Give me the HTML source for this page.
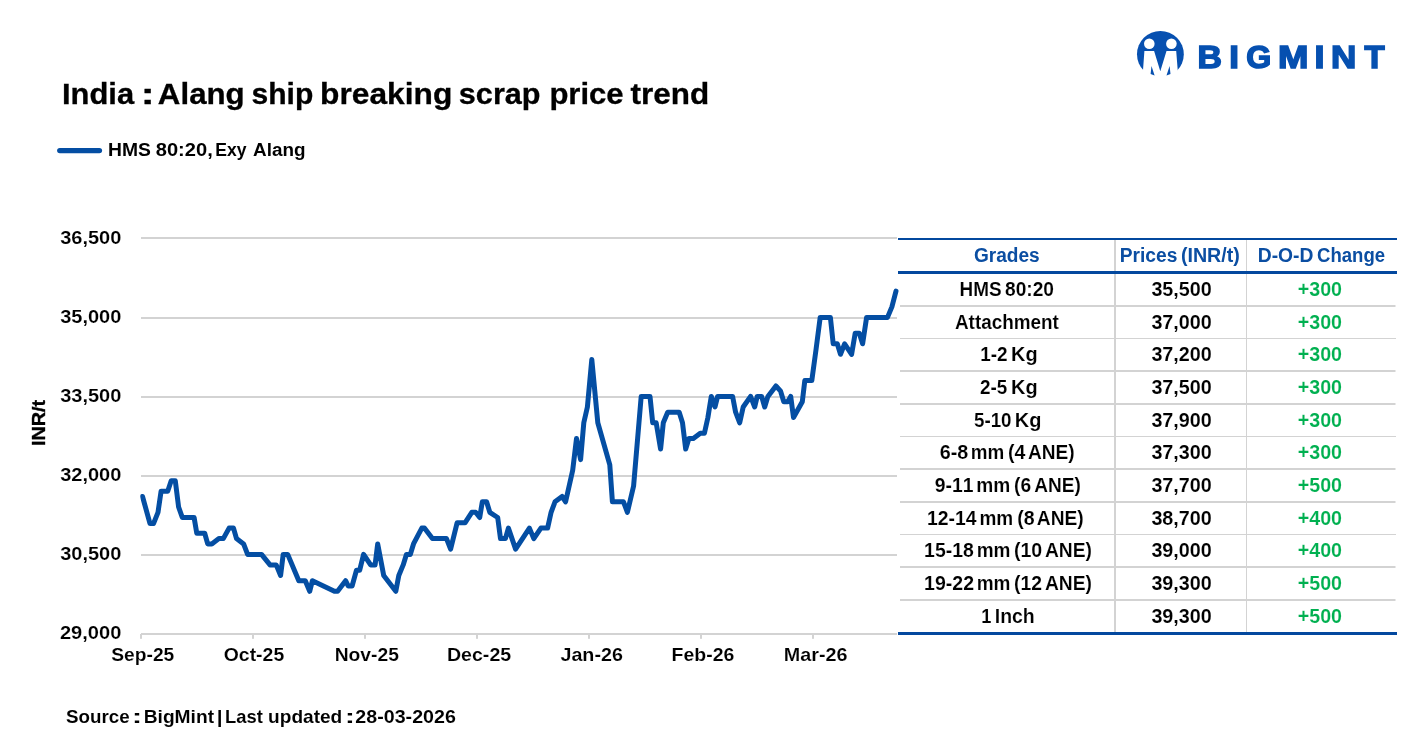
<!DOCTYPE html>
<html lang="en"><head><meta charset="utf-8"><title>India : Alang ship breaking scrap price trend</title>
<style>html,body{margin:0;padding:0;background:#fff}body{width:1412px;height:736px;overflow:hidden}svg{display:block}text{font-kerning:none;font-family:"Liberation Sans",sans-serif;font-weight:bold}</style></head><body>
<svg width="1412" height="736" viewBox="0 0 1412 736">
<rect width="1412" height="736" fill="#fff"/>
<g id="logo"><title>BIGMINT</title>
<circle cx="1160.4" cy="54.3" r="23.4" fill="#0750b0"/>
<circle cx="1149.3" cy="43.7" r="5.3" fill="#fff"/><circle cx="1171.4" cy="43.7" r="5.3" fill="#fff"/>
<path d="M1144.4 50.9 L1154.1 50.9 L1160.3 71.2 L1166.5 50.9 L1176.2 50.9 L1178.5 80 L1142.3 80 Z" fill="#fff"/>
<path d="M1151.5 66 L1150.6 74 L1154.6 75.6 Z M1169.6 66 L1170.5 74 L1166.5 75.6 Z" fill="#0750b0"/>
<text y="68.20" font-size="31.10" fill="#0650b0" stroke="#0650b0" stroke-width="1.5" stroke-linejoin="miter"><tspan x="1197.50" textLength="24.42" lengthAdjust="spacingAndGlyphs">B</tspan><tspan x="1229.21" textLength="9.68" lengthAdjust="spacingAndGlyphs">I</tspan><tspan x="1246.36" textLength="24.96" lengthAdjust="spacingAndGlyphs">G</tspan><tspan x="1277.94" textLength="30.43" lengthAdjust="spacingAndGlyphs">M</tspan><tspan x="1314.46" textLength="9.97" lengthAdjust="spacingAndGlyphs">I</tspan><tspan x="1330.90" textLength="25.32" lengthAdjust="spacingAndGlyphs">N</tspan><tspan x="1364.52" textLength="20.13" lengthAdjust="spacingAndGlyphs">T</tspan></text>
</g>
<text y="103.90" font-size="29.4" fill="#000" stroke="#000" stroke-width="0.3"><tspan x="61.98" textLength="72.17" lengthAdjust="spacingAndGlyphs">India</tspan> <tspan x="140.71" textLength="13.97" lengthAdjust="spacingAndGlyphs">:</tspan> <tspan x="157.87" textLength="86.87" lengthAdjust="spacingAndGlyphs">Alang</tspan> <tspan x="251.49" textLength="61.79" lengthAdjust="spacingAndGlyphs">ship</tspan> <tspan x="320.06" textLength="132.21" lengthAdjust="spacingAndGlyphs">breaking</tspan> <tspan x="458.87" textLength="81.63" lengthAdjust="spacingAndGlyphs">scrap</tspan> <tspan x="549.40" textLength="74.21" lengthAdjust="spacingAndGlyphs">price</tspan> <tspan x="630.57" textLength="78.66" lengthAdjust="spacingAndGlyphs">trend</tspan></text>
<line x1="59.8" y1="150.6" x2="99.4" y2="150.6" stroke="#044ea3" stroke-width="5.4" stroke-linecap="round"/>
<text y="155.60" font-size="18.3" fill="#000"><tspan x="108.06" textLength="42.90" lengthAdjust="spacingAndGlyphs">HMS</tspan> <tspan x="155.76" textLength="56.98" lengthAdjust="spacingAndGlyphs">80:20,</tspan> <tspan x="215.32" textLength="31.27" lengthAdjust="spacingAndGlyphs">Exy</tspan> <tspan x="253.03" textLength="52.43" lengthAdjust="spacingAndGlyphs">Alang</tspan></text>
<text y="722.75" font-size="18.7" fill="#000" stroke="#fff" stroke-width="0.05"><tspan x="66.03" textLength="63.63" lengthAdjust="spacingAndGlyphs">Source</tspan> <tspan x="131.73" textLength="10.54" lengthAdjust="spacingAndGlyphs">:</tspan> <tspan x="143.69" textLength="70.37" lengthAdjust="spacingAndGlyphs">BigMint</tspan> <tspan x="216.80" textLength="5.80" lengthAdjust="spacingAndGlyphs">|</tspan> <tspan x="225.05" textLength="37.80" lengthAdjust="spacingAndGlyphs">Last</tspan> <tspan x="268.09" textLength="74.19" lengthAdjust="spacingAndGlyphs">updated</tspan> <tspan x="344.70" textLength="10.30" lengthAdjust="spacingAndGlyphs">:</tspan> <tspan x="355.39" textLength="100.44" lengthAdjust="spacingAndGlyphs">28-03-2026</tspan></text>
<g id="chart">
<rect x="141" y="237" width="756" height="2" fill="#d3d3d3"/>
<rect x="141" y="317" width="756" height="2" fill="#d3d3d3"/>
<rect x="141" y="396" width="756" height="2" fill="#d3d3d3"/>
<rect x="141" y="475" width="756" height="2" fill="#d3d3d3"/>
<rect x="141" y="554" width="756" height="2" fill="#d3d3d3"/>
<rect x="141" y="633" width="756" height="2" fill="#d3d3d3"/>
<rect x="140.0" y="634" width="2" height="4.8" fill="#d3d3d3"/>
<rect x="252.0" y="634" width="2" height="4.8" fill="#d3d3d3"/>
<rect x="364.0" y="634" width="2" height="4.8" fill="#d3d3d3"/>
<rect x="476.0" y="634" width="2" height="4.8" fill="#d3d3d3"/>
<rect x="588.0" y="634" width="2" height="4.8" fill="#d3d3d3"/>
<rect x="700.0" y="634" width="2" height="4.8" fill="#d3d3d3"/>
<rect x="812.0" y="634" width="2" height="4.8" fill="#d3d3d3"/>
<text x="60.18" y="243.55" font-size="18.8" fill="#000" stroke="#fff" stroke-width="0.12" textLength="61.20" lengthAdjust="spacingAndGlyphs">36,500</text>
<text x="60.18" y="322.54" font-size="18.8" fill="#000" stroke="#fff" stroke-width="0.12" textLength="61.20" lengthAdjust="spacingAndGlyphs">35,000</text>
<text x="60.18" y="401.53" font-size="18.8" fill="#000" stroke="#fff" stroke-width="0.12" textLength="61.20" lengthAdjust="spacingAndGlyphs">33,500</text>
<text x="60.18" y="480.52" font-size="18.8" fill="#000" stroke="#fff" stroke-width="0.12" textLength="61.20" lengthAdjust="spacingAndGlyphs">32,000</text>
<text x="60.18" y="559.51" font-size="18.8" fill="#000" stroke="#fff" stroke-width="0.12" textLength="61.20" lengthAdjust="spacingAndGlyphs">30,500</text>
<text x="59.94" y="638.50" font-size="18.8" fill="#000" stroke="#fff" stroke-width="0.12" textLength="61.44" lengthAdjust="spacingAndGlyphs">29,000</text>
<g transform="translate(45.2,444.9) rotate(-90)"><text x="-1.15" y="0.00" font-size="18.7" fill="#000" stroke="#000" stroke-width="0.35" textLength="46.22" lengthAdjust="spacingAndGlyphs">INR/t</text></g>
<text x="111.29" y="660.90" font-size="18.8" fill="#000" stroke="#fff" stroke-width="0.12" textLength="63.01" lengthAdjust="spacingAndGlyphs">Sep-25</text>
<text x="223.74" y="660.90" font-size="18.8" fill="#000" stroke="#fff" stroke-width="0.12" textLength="60.46" lengthAdjust="spacingAndGlyphs">Oct-25</text>
<text x="334.65" y="660.90" font-size="18.8" fill="#000" stroke="#fff" stroke-width="0.12" textLength="64.25" lengthAdjust="spacingAndGlyphs">Nov-25</text>
<text x="446.93" y="660.90" font-size="18.8" fill="#000" stroke="#fff" stroke-width="0.12" textLength="64.28" lengthAdjust="spacingAndGlyphs">Dec-25</text>
<text x="560.44" y="660.90" font-size="18.8" fill="#000" stroke="#fff" stroke-width="0.12" textLength="62.43" lengthAdjust="spacingAndGlyphs">Jan-26</text>
<text x="671.64" y="660.90" font-size="18.8" fill="#000" stroke="#fff" stroke-width="0.12" textLength="62.72" lengthAdjust="spacingAndGlyphs">Feb-26</text>
<text x="783.82" y="660.90" font-size="18.8" fill="#000" stroke="#fff" stroke-width="0.12" textLength="63.76" lengthAdjust="spacingAndGlyphs">Mar-26</text>
<clipPath id="plotclip"><rect x="140.3" y="230" width="760" height="410"/></clipPath>
<polyline clip-path="url(#plotclip)" points="142.5,496.5 150.0,523.6 153.5,523.6 158.0,512.3 161.1,491.2 167.7,491.2 171.2,480.7 175.3,480.7 178.6,507.0 182.3,517.5 194.1,517.5 196.8,533.3 204.7,533.3 207.7,543.9 211.8,543.9 218.9,538.6 223.3,538.6 229.1,528.1 233.5,528.1 236.5,538.6 243.6,543.9 247.6,554.4 261.5,554.4 270.0,564.9 276.2,564.9 280.6,575.5 283.2,554.4 287.7,554.4 298.8,580.7 305.3,580.7 309.7,591.3 312.4,580.7 334.4,591.3 337.6,591.3 345.6,580.7 348.2,586.0 352.1,586.0 356.5,570.2 359.7,570.2 363.6,554.4 370.6,564.9 375.1,564.9 377.7,543.9 383.7,575.5 395.8,591.3 398.8,575.5 403.2,564.9 406.4,554.4 410.3,554.4 413.5,543.9 421.8,528.1 424.4,528.1 432.4,538.6 446.5,538.6 450.6,549.1 457.1,522.8 465.0,522.8 471.8,512.3 475.6,512.3 479.7,517.5 482.3,501.8 486.6,501.8 489.8,512.3 497.7,517.5 500.5,538.6 505.4,538.6 508.4,528.1 515.6,549.1 529.4,528.1 533.8,538.6 540.9,528.1 547.6,528.1 551.1,512.3 555.0,501.8 562.1,496.5 565.6,501.8 572.7,470.2 576.5,438.6 580.6,459.6 583.8,422.8 587.4,407.0 591.8,359.6 597.8,422.8 609.8,464.9 612.4,501.8 623.5,501.8 627.4,512.3 633.6,486.0 641.2,396.4 650.0,396.4 652.7,422.8 656.2,422.8 660.6,449.1 663.3,422.8 667.7,412.2 679.2,412.2 682.5,422.8 685.7,449.1 688.9,438.6 693.3,438.6 700.3,433.3 704.4,433.3 707.9,417.5 711.3,396.4 715.0,407.0 717.6,396.4 732.6,396.4 735.6,412.2 739.7,422.8 743.2,407.0 750.6,396.4 754.7,407.0 757.2,396.4 761.6,396.4 764.7,407.0 767.9,396.4 775.9,385.9 780.6,391.2 783.8,401.7 787.7,401.7 790.7,396.4 793.5,417.5 802.3,401.7 804.8,380.6 811.8,380.6 816.1,349.0 820.2,317.4 830.4,317.4 833.2,343.8 837.3,343.8 840.5,354.3 844.6,343.8 851.6,354.3 855.2,333.2 859.3,333.2 862.6,343.8 866.6,317.4 887.5,317.4 891.9,306.9 896.0,291.1" fill="none" stroke="#044ea3" stroke-width="5" stroke-linejoin="round" stroke-linecap="round"/>
</g>
<g id="table">
<rect x="900" y="305" width="495.5" height="2" fill="#d3d3d3"/>
<rect x="900" y="338" width="496" height="1" fill="#d3d3d3"/>
<rect x="900" y="370" width="495.5" height="2" fill="#d3d3d3"/>
<rect x="900" y="403" width="495.5" height="2" fill="#d3d3d3"/>
<rect x="900" y="436" width="496" height="1" fill="#d3d3d3"/>
<rect x="900" y="468" width="495.5" height="2" fill="#d3d3d3"/>
<rect x="900" y="501" width="495.5" height="2" fill="#d3d3d3"/>
<rect x="900" y="534" width="496" height="1" fill="#d3d3d3"/>
<rect x="900" y="566" width="495.5" height="2" fill="#d3d3d3"/>
<rect x="900" y="599" width="495.5" height="2" fill="#d3d3d3"/>
<rect x="1114" y="240" width="2" height="392" fill="#d3d3d3"/>
<rect x="1246" y="240" width="1" height="392" fill="#d3d3d3"/>
<rect x="898" y="238" width="499" height="2" fill="#03489e"/>
<rect x="898" y="271" width="499" height="3" fill="#03489e"/>
<rect x="898" y="632" width="499" height="3" fill="#03489e"/>
<text x="973.92" y="262.00" font-size="19.4" fill="#0b4ea2" textLength="65.77" lengthAdjust="spacingAndGlyphs">Grades</text>
<text y="262.00" font-size="19.4" fill="#0b4ea2"><tspan x="1119.72" textLength="57.67" lengthAdjust="spacingAndGlyphs">Prices</tspan> <tspan x="1180.92" textLength="58.96" lengthAdjust="spacingAndGlyphs">(INR/t)</tspan></text>
<text y="262.00" font-size="19.4" fill="#0b4ea2"><tspan x="1257.71" textLength="55.70" lengthAdjust="spacingAndGlyphs">D-O-D</tspan> <tspan x="1317.04" textLength="67.99" lengthAdjust="spacingAndGlyphs">Change</tspan></text>
<text y="295.70" font-size="20.1" fill="#000" stroke="#fff" stroke-width="0.12"><tspan x="959.57" textLength="42.02" lengthAdjust="spacingAndGlyphs">HMS</tspan> <tspan x="1005.03" textLength="49.01" lengthAdjust="spacingAndGlyphs">80:20</tspan></text>
<text x="1151.39" y="295.70" font-size="20.1" fill="#000" stroke="#fff" stroke-width="0.12" textLength="60.48" lengthAdjust="spacingAndGlyphs">35,500</text>
<text x="1297.71" y="295.70" font-size="20.1" fill="#00b050" stroke="#fff" stroke-width="0.12" textLength="44.35" lengthAdjust="spacingAndGlyphs">+300</text>
<text y="328.70" font-size="20.1" fill="#000" stroke="#fff" stroke-width="0.12"><tspan x="954.97" textLength="103.92" lengthAdjust="spacingAndGlyphs">Attachment</tspan></text>
<text x="1151.39" y="328.70" font-size="20.1" fill="#000" stroke="#fff" stroke-width="0.12" textLength="60.48" lengthAdjust="spacingAndGlyphs">37,000</text>
<text x="1297.71" y="328.70" font-size="20.1" fill="#00b050" stroke="#fff" stroke-width="0.12" textLength="44.35" lengthAdjust="spacingAndGlyphs">+300</text>
<text y="361.00" font-size="20.1" fill="#000" stroke="#fff" stroke-width="0.12"><tspan x="980.15" textLength="27.37" lengthAdjust="spacingAndGlyphs">1-2</tspan> <tspan x="1011.01" textLength="26.59" lengthAdjust="spacingAndGlyphs">Kg</tspan></text>
<text x="1151.39" y="361.00" font-size="20.1" fill="#000" stroke="#fff" stroke-width="0.12" textLength="60.48" lengthAdjust="spacingAndGlyphs">37,200</text>
<text x="1297.71" y="361.00" font-size="20.1" fill="#00b050" stroke="#fff" stroke-width="0.12" textLength="44.35" lengthAdjust="spacingAndGlyphs">+300</text>
<text y="393.90" font-size="20.1" fill="#000" stroke="#fff" stroke-width="0.12"><tspan x="979.99" textLength="27.30" lengthAdjust="spacingAndGlyphs">2-5</tspan> <tspan x="1011.01" textLength="26.59" lengthAdjust="spacingAndGlyphs">Kg</tspan></text>
<text x="1151.39" y="393.90" font-size="20.1" fill="#000" stroke="#fff" stroke-width="0.12" textLength="60.48" lengthAdjust="spacingAndGlyphs">37,500</text>
<text x="1297.71" y="393.90" font-size="20.1" fill="#00b050" stroke="#fff" stroke-width="0.12" textLength="44.35" lengthAdjust="spacingAndGlyphs">+300</text>
<text y="426.70" font-size="20.1" fill="#000" stroke="#fff" stroke-width="0.12"><tspan x="973.96" textLength="37.57" lengthAdjust="spacingAndGlyphs">5-10</tspan> <tspan x="1014.81" textLength="26.59" lengthAdjust="spacingAndGlyphs">Kg</tspan></text>
<text x="1151.39" y="426.70" font-size="20.1" fill="#000" stroke="#fff" stroke-width="0.12" textLength="60.48" lengthAdjust="spacingAndGlyphs">37,900</text>
<text x="1297.71" y="426.70" font-size="20.1" fill="#00b050" stroke="#fff" stroke-width="0.12" textLength="44.35" lengthAdjust="spacingAndGlyphs">+300</text>
<text y="459.10" font-size="20.1" fill="#000" stroke="#fff" stroke-width="0.12"><tspan x="939.82" textLength="28.55" lengthAdjust="spacingAndGlyphs">6-8</tspan> <tspan x="970.80" textLength="33.42" lengthAdjust="spacingAndGlyphs">mm</tspan> <tspan x="1007.97" textLength="17.40" lengthAdjust="spacingAndGlyphs">(4</tspan> <tspan x="1028.06" textLength="46.65" lengthAdjust="spacingAndGlyphs">ANE)</tspan></text>
<text x="1151.39" y="459.10" font-size="20.1" fill="#000" stroke="#fff" stroke-width="0.12" textLength="60.48" lengthAdjust="spacingAndGlyphs">37,300</text>
<text x="1297.71" y="459.10" font-size="20.1" fill="#00b050" stroke="#fff" stroke-width="0.12" textLength="44.35" lengthAdjust="spacingAndGlyphs">+300</text>
<text y="492.00" font-size="20.1" fill="#000" stroke="#fff" stroke-width="0.12"><tspan x="934.77" textLength="38.73" lengthAdjust="spacingAndGlyphs">9-11</tspan> <tspan x="976.28" textLength="33.96" lengthAdjust="spacingAndGlyphs">mm</tspan> <tspan x="1014.08" textLength="17.07" lengthAdjust="spacingAndGlyphs">(6</tspan> <tspan x="1034.37" textLength="46.54" lengthAdjust="spacingAndGlyphs">ANE)</tspan></text>
<text x="1151.39" y="492.00" font-size="20.1" fill="#000" stroke="#fff" stroke-width="0.12" textLength="60.48" lengthAdjust="spacingAndGlyphs">37,700</text>
<text x="1297.71" y="492.00" font-size="20.1" fill="#00b050" stroke="#fff" stroke-width="0.12" textLength="44.35" lengthAdjust="spacingAndGlyphs">+500</text>
<text y="524.90" font-size="20.1" fill="#000" stroke="#fff" stroke-width="0.12"><tspan x="926.92" textLength="49.54" lengthAdjust="spacingAndGlyphs">12-14</tspan> <tspan x="979.49" textLength="33.75" lengthAdjust="spacingAndGlyphs">mm</tspan> <tspan x="1017.17" textLength="17.40" lengthAdjust="spacingAndGlyphs">(8</tspan> <tspan x="1036.86" textLength="46.85" lengthAdjust="spacingAndGlyphs">ANE)</tspan></text>
<text x="1151.39" y="524.90" font-size="20.1" fill="#000" stroke="#fff" stroke-width="0.12" textLength="60.48" lengthAdjust="spacingAndGlyphs">38,700</text>
<text x="1297.71" y="524.90" font-size="20.1" fill="#00b050" stroke="#fff" stroke-width="0.12" textLength="44.35" lengthAdjust="spacingAndGlyphs">+400</text>
<text y="556.90" font-size="20.1" fill="#000" stroke="#fff" stroke-width="0.12"><tspan x="924.11" textLength="49.74" lengthAdjust="spacingAndGlyphs">15-18</tspan> <tspan x="976.69" textLength="33.75" lengthAdjust="spacingAndGlyphs">mm</tspan> <tspan x="1013.96" textLength="28.30" lengthAdjust="spacingAndGlyphs">(10</tspan> <tspan x="1044.96" textLength="47.06" lengthAdjust="spacingAndGlyphs">ANE)</tspan></text>
<text x="1151.39" y="556.90" font-size="20.1" fill="#000" stroke="#fff" stroke-width="0.12" textLength="60.48" lengthAdjust="spacingAndGlyphs">39,000</text>
<text x="1297.71" y="556.90" font-size="20.1" fill="#00b050" stroke="#fff" stroke-width="0.12" textLength="44.35" lengthAdjust="spacingAndGlyphs">+400</text>
<text y="589.80" font-size="20.1" fill="#000" stroke="#fff" stroke-width="0.12"><tspan x="924.11" textLength="49.93" lengthAdjust="spacingAndGlyphs">19-22</tspan> <tspan x="976.69" textLength="33.75" lengthAdjust="spacingAndGlyphs">mm</tspan> <tspan x="1013.98" textLength="27.96" lengthAdjust="spacingAndGlyphs">(12</tspan> <tspan x="1044.96" textLength="47.06" lengthAdjust="spacingAndGlyphs">ANE)</tspan></text>
<text x="1151.39" y="589.80" font-size="20.1" fill="#000" stroke="#fff" stroke-width="0.12" textLength="60.48" lengthAdjust="spacingAndGlyphs">39,300</text>
<text x="1297.71" y="589.80" font-size="20.1" fill="#00b050" stroke="#fff" stroke-width="0.12" textLength="44.35" lengthAdjust="spacingAndGlyphs">+500</text>
<text y="623.40" font-size="20.1" fill="#000" stroke="#fff" stroke-width="0.12"><tspan x="981.29" textLength="10.18" lengthAdjust="spacingAndGlyphs">1</tspan> <tspan x="994.74" textLength="40.03" lengthAdjust="spacingAndGlyphs">Inch</tspan></text>
<text x="1151.39" y="623.40" font-size="20.1" fill="#000" stroke="#fff" stroke-width="0.12" textLength="60.48" lengthAdjust="spacingAndGlyphs">39,300</text>
<text x="1297.71" y="623.40" font-size="20.1" fill="#00b050" stroke="#fff" stroke-width="0.12" textLength="44.35" lengthAdjust="spacingAndGlyphs">+500</text>
</g>
</svg></body></html>
